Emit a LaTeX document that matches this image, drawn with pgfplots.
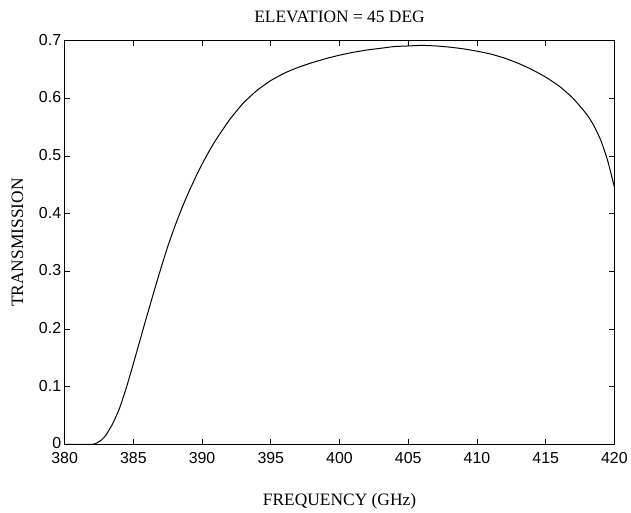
\documentclass[border=0pt]{standalone}
\usepackage{fontspec}
\setmainfont{Liberation Serif}
\newfontfamily\ticksf{Liberation Sans}
\usepackage{pgfplots}
\pgfplotsset{compat=1.18}

\begin{document}
\begin{tikzpicture}
\begin{axis}[
    name=ax,
    scale only axis,
    width=553pt, height=406pt,
    xmin=380, xmax=420, ymin=0, ymax=0.7,
    xtick={380,385,390,395,400,405,410,415,420},
    xticklabels={380,385,390,395,400,405,410,415,420},
    ytick={0,0.1,0.2,0.3,0.4,0.5,0.6,0.7},
    yticklabels={0,0.1,0.2,0.3,0.4,0.5,0.6,0.7},
    tick align=inside,
    major tick length=5pt,
    tick style={line width=0.8pt, black},
    axis line style={line width=1.1pt},
    tick label style={font=\ticksf\fontsize{16}{18}\selectfont},
    xticklabel style={yshift=-5pt},
    yticklabel style={yshift=1pt},
    title={ELEVATION = 45 DEG},
    title style={font=\fontsize{17.5}{20}\selectfont, yshift=9pt},
    xlabel={FREQUENCY (GHz)},
    ylabel={TRANSMISSION},
    label style={font=\fontsize{17.5}{20}\selectfont},
    xlabel style={yshift=-23pt},
    ylabel style={yshift=9pt},
]
% transmission curve
\addplot[black, line width=1pt, smooth, tension=0.3] coordinates {
    (380,0) (381,0) (382,0) (382.3,0.002) (382.7,0.008) (383.0,0.016)
    (383.5,0.036) (384.0,0.063) (384.5,0.099) (385.0,0.140) (385.5,0.182)
    (386.0,0.224) (386.5,0.265) (387.0,0.305) (387.5,0.343) (388.0,0.377)
    (388.5,0.408) (389.0,0.436) (389.5,0.462) (390.0,0.486) (390.5,0.508)
    (391.0,0.528) (392.0,0.563) (393.0,0.592) (394.0,0.614) (395.0,0.631)
    (396.0,0.644) (397.0,0.654) (398.0,0.662) (399.0,0.669) (400.0,0.675)
    (401.0,0.680) (402.0,0.684) (403.0,0.687) (404.0,0.690) (405.0,0.691)
    (406.0,0.692) (407.0,0.691) (408.0,0.689) (409.0,0.686) (410.0,0.682)
    (411.0,0.677) (412.0,0.670) (413.0,0.661) (414.0,0.650) (415.0,0.637)
    (416.0,0.621) (417.0,0.600) (418.0,0.572) (418.5,0.553) (419.0,0.528)
    (419.5,0.493) (420.0,0.446)
};
\end{axis}
\path (ax.south west) ++(-65pt,-67pt) rectangle ++(631pt,514pt);
\end{tikzpicture}
\end{document}
